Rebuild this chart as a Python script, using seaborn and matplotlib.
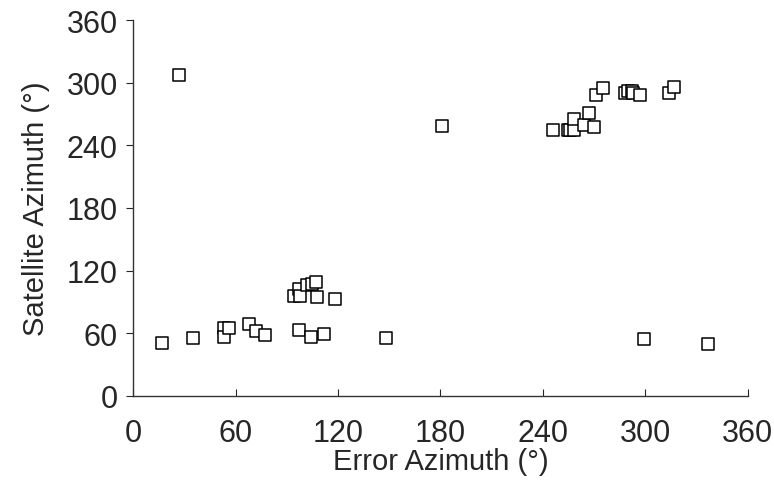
import pandas as pd
import seaborn as sns
import matplotlib.pyplot as plt

# Values (degrees)
error_azimuth = [27, 17, 35, 53, 53, 56, 68, 72, 77, 97, 104, 112, 148,
                 94, 97, 98, 102, 105, 107, 108, 118,
                 181,
                 246, 255, 256, 258, 258, 264, 267, 270, 271, 275,
                 288, 290, 292, 293, 297, 314, 317,
                 299, 337]
satellite_azimuth = [307, 51, 55, 65, 56, 65, 69, 62, 58, 63, 56, 59, 55,
                     96, 102, 96, 106, 107, 109, 95, 93,
                     259,
                     255, 255, 255, 255, 265, 260, 271, 258, 288, 295,
                     290, 292, 292, 290, 288, 290, 296,
                     54, 50]
ticks = [0, 60, 120, 180, 240, 300, 360]

df = pd.DataFrame({'Error Azimuth': error_azimuth,
                   'Satellite Azimuth': satellite_azimuth})

sns.set_style('ticks')
plt.rcParams['font.family'] = ['Liberation Sans', 'DejaVu Sans']

fig = plt.figure(figsize=(7.74, 4.81), dpi=100)
ax = fig.add_axes([0.172, 0.175, 0.794, 0.781])

sns.scatterplot(data=df, x='Error Azimuth', y='Satellite Azimuth', ax=ax,
                marker='s', s=80, facecolor='white', edgecolor='black',
                linewidth=1.1)

ax.set_xlim(0, 360)
ax.set_ylim(0, 360)
ax.set_xticks(ticks)
ax.set_yticks(ticks)
ax.tick_params(axis='x', direction='in', length=5, labelsize=22, pad=16)
ax.tick_params(axis='y', direction='out', length=5, labelsize=22, pad=6)
ax.set_xlabel('Error Azimuth (°)', fontsize=21, labelpad=-1)
ax.set_ylabel('Satellite Azimuth (°)', fontsize=21, labelpad=12)
for side in ['top', 'right']:
    ax.spines[side].set_visible(False)
for side in ['left', 'bottom']:
    ax.spines[side].set_color('#333333')
    ax.spines[side].set_linewidth(1.0)

fig.savefig('out.png', dpi=100)
